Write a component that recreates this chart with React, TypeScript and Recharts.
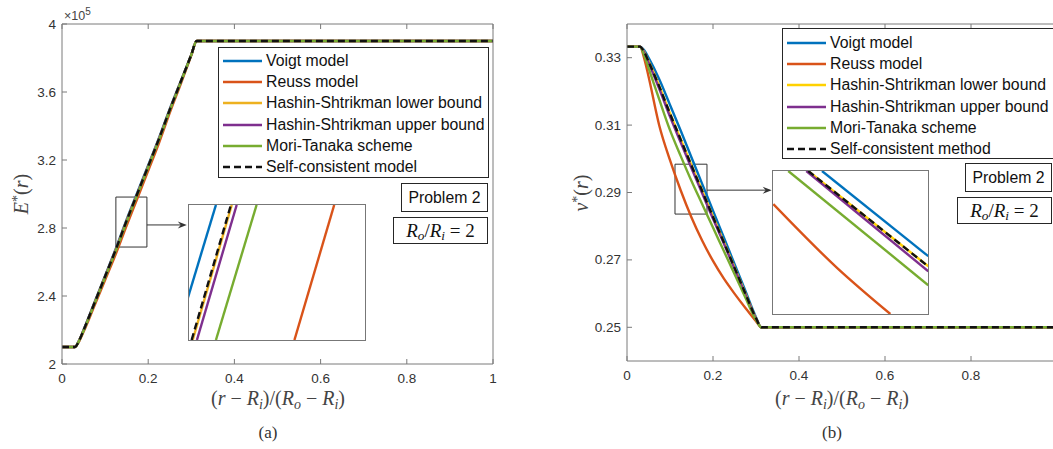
import React from 'react';
import { LineChart, Line, XAxis, YAxis, ReferenceArea, ReferenceLine, ReferenceDot } from 'recharts';

// normalized radius (r - Ri)/(Ro - Ri)
const position = [0, 0.03, 0.04, 0.05, 0.075, 0.1, 0.125, 0.15, 0.175, 0.2, 0.225, 0.25, 0.275, 0.3, 0.3125, 1];

// (a) effective Young's modulus, in units of 10^5
const eVoigt = [2.1, 2.1, 2.14, 2.2, 2.36, 2.52, 2.68, 2.85, 3.01, 3.17, 3.33, 3.5, 3.66, 3.82, 3.9, 3.9];
const eReuss = [2.1, 2.1, 2.135, 2.189, 2.341, 2.494, 2.648, 2.815, 2.975, 3.137, 3.3, 3.477, 3.644, 3.815, 3.9, 3.9];
const eHsLower = [2.1, 2.1, 2.139, 2.198, 2.357, 2.516, 2.675, 2.844, 3.004, 3.164, 3.325, 3.496, 3.657, 3.819, 3.9, 3.9];
const eHsUpper = [2.1, 2.1, 2.139, 2.198, 2.356, 2.514, 2.673, 2.842, 3.002, 3.162, 3.323, 3.495, 3.656, 3.819, 3.9, 3.9];
const eMoriTanaka = [2.1, 2.1, 2.138, 2.196, 2.352, 2.509, 2.667, 2.836, 2.996, 3.157, 3.318, 3.491, 3.654, 3.818, 3.9, 3.9];
const eSelfConsistent = [2.1, 2.1, 2.139, 2.198, 2.356, 2.515, 2.674, 2.843, 3.003, 3.163, 3.324, 3.495, 3.657, 3.819, 3.9, 3.9];

// (b) effective Poisson's ratio
const nuVoigt = [0.3333, 0.3333, 0.3322, 0.33, 0.3236, 0.316, 0.3083, 0.3004, 0.2925, 0.2846, 0.2767, 0.2688, 0.2609, 0.253, 0.25, 0.25];
const nuReuss = [0.3333, 0.3333, 0.3298, 0.3245, 0.3099, 0.2996, 0.2906, 0.2826, 0.2757, 0.2697, 0.2645, 0.26, 0.2558, 0.2518, 0.25, 0.25];
const nuHsLower = [0.3333, 0.3333, 0.3317, 0.329, 0.3216, 0.3135, 0.3058, 0.2981, 0.2905, 0.2829, 0.2754, 0.2678, 0.2602, 0.2527, 0.25, 0.25];
const nuHsUpper = [0.3333, 0.3333, 0.3315, 0.3286, 0.3208, 0.3125, 0.3048, 0.2972, 0.2897, 0.2822, 0.2749, 0.2674, 0.2599, 0.2526, 0.25, 0.25];
const nuMoriTanaka = [0.3333, 0.3333, 0.3307, 0.327, 0.3176, 0.3085, 0.3008, 0.2934, 0.2865, 0.2796, 0.2727, 0.2658, 0.2589, 0.2522, 0.25, 0.25];
const nuSelfConsistent = [0.3333, 0.3333, 0.3317, 0.3289, 0.3215, 0.3134, 0.3057, 0.298, 0.2904, 0.2828, 0.2753, 0.2677, 0.2601, 0.2527, 0.25, 0.25];

// zoomed insets: x at the bottom / top of the inset window
const insetAY = [2.97, 2.985];
const insetAX = {
  voigt: [0.16921, 0.17153],
  reuss: [0.17599, 0.17825],
  hsLower: [0.17021, 0.17243],
  hsUpper: [0.17045, 0.17271],
  moriTanaka: [0.17153, 0.17384],
  selfConsistent: [0.17015, 0.17238],
};
const insetB = {
  voigt: [[0.14632, 0.291], [0.16004, 0.28683]],
  reuss: [[0.14004, 0.28938], [0.14826, 0.28626], [0.15514, 0.284]],
  hsLower: [[0.14455, 0.291], [0.16004, 0.28633]],
  hsUpper: [[0.1443, 0.291], [0.16004, 0.28609]],
  moriTanaka: [[0.14197, 0.291], [0.16004, 0.28541]],
  selfConsistent: [[0.14455, 0.291], [0.16004, 0.28633]],
};

const xTicksA = [0, 0.2, 0.4, 0.6, 0.8, 1];
const xTicksB = [0, 0.2, 0.4, 0.6, 0.8];
const eTicks = [2, 2.4, 2.8, 3.2, 3.6, 4];
const nuTicks = [0.25, 0.27, 0.29, 0.31, 0.33];

const keys = ['voigt', 'reuss', 'hsLower', 'hsUpper', 'moriTanaka', 'selfConsistent'];
const namesA = ['Voigt model', 'Reuss model', 'Hashin-Shtrikman lower bound', 'Hashin-Shtrikman upper bound', 'Mori-Tanaka scheme', 'Self-consistent model'];
const namesB = ['Voigt model', 'Reuss model', 'Hashin-Shtrikman lower bound', 'Hashin-Shtrikman upper bound', 'Mori-Tanaka scheme', 'Self-consistent method'];
const colorsA = ['#0072BD', '#D95319', '#EDB120', '#7E2F8E', '#77AC30', '#111111'];
const colorsB = ['#0072BD', '#D95319', '#FFD100', '#7E2F8E', '#77AC30', '#111111'];

const dataA = position.map((x, i) => ({
  x, voigt: eVoigt[i], reuss: eReuss[i], hsLower: eHsLower[i], hsUpper: eHsUpper[i],
  moriTanaka: eMoriTanaka[i], selfConsistent: eSelfConsistent[i],
}));
const dataB = position.map((x, i) => ({
  x, voigt: nuVoigt[i], reuss: nuReuss[i], hsLower: nuHsLower[i], hsUpper: nuHsUpper[i],
  moriTanaka: nuMoriTanaka[i], selfConsistent: nuSelfConsistent[i],
}));

const axisColor = '#7a7a7a';
const tickFont = { fontFamily: '"Liberation Sans", Arial, sans-serif', fontSize: 13.5, fill: '#333' };
const serif = '"Liberation Serif", "Times New Roman", serif';
const sans = '"Liberation Sans", Arial, sans-serif';
const lineW = 2.4;

type Plot = { left: number; right: number; top: number; bottom: number };

const leftTick = (p: Plot, fmt: (v: number) => string) => (props: any) => {
  const y = props.payload?.coordinate ?? props.y;
  return (
    <g>
      <line x1={p.left} x2={p.left + 5} y1={y} y2={y} stroke={axisColor} />
      <text x={p.left - 6} y={y} textAnchor="end" dominantBaseline="central" {...tickFont}>{fmt(props.payload.value)}</text>
    </g>
  );
};
const bottomTick = (p: Plot) => (props: any) => {
  const x = props.payload?.coordinate ?? props.x;
  return (
    <g>
      <line x1={x} x2={x} y1={p.bottom} y2={p.bottom - 5} stroke={axisColor} />
      <text x={x} y={p.bottom + 14} textAnchor="middle" dominantBaseline="central" {...tickFont}>{String(props.payload.value)}</text>
    </g>
  );
};
const topTick = (p: Plot) => (props: any) => {
  const x = props.payload?.coordinate ?? props.x;
  return <line x1={x} x2={x} y1={p.top} y2={p.top + 5} stroke={axisColor} />;
};
const rightTick = (p: Plot) => (props: any) => {
  const y = props.payload?.coordinate ?? props.y;
  return <line x1={p.right} x2={p.right - 5} y1={y} y2={y} stroke={axisColor} />;
};

const arrowHead = (props: any) => {
  const { cx, cy } = props;
  return <polygon points={`${cx},${cy} ${cx - 9},${cy - 3.5} ${cx - 6},${cy} ${cx - 9},${cy + 3.5}`} fill="#333" />;
};

function LegendBox(props: { left: number; top: number; width: number; names: string[]; colors: string[]; rowTop: number }) {
  const { left, top, width, names, colors, rowTop } = props;
  return (
    <div style={{ position: 'absolute', left, top, width, height: 131, border: '1px solid #262626', background: '#fff', boxSizing: 'border-box' }}>
      {names.map((n, i) => (
        <div key={n} style={{ position: 'absolute', left: 4, top: rowTop + i * 21.2 - 10, height: 20, display: 'flex', alignItems: 'center', whiteSpace: 'nowrap' }}>
          <svg width={40} height={20} style={{ display: 'block' }}>
            <line x1={0} x2={39} y1={10} y2={10} stroke={colors[i]} strokeWidth={lineW} strokeDasharray={i === 5 ? '7 4' : undefined} />
          </svg>
          <span style={{ marginLeft: 3, fontFamily: sans, fontSize: 15.8, color: '#111' }}>{n}</span>
        </div>
      ))}
    </div>
  );
}

function Sub(props: { c: string }) {
  return <sub style={{ fontSize: '0.7em', verticalAlign: '-0.25em', lineHeight: 0 }}><i>{props.c}</i></sub>;
}

function TextBoxes(props: { left: number; top: number }) {
  const { left, top } = props;
  return (
    <>
      <div style={{ position: 'absolute', left: left + 8, top, width: 87, height: 29, border: '1px solid #262626', background: '#fff', boxSizing: 'border-box', fontFamily: sans, fontSize: 15.8, color: '#111', display: 'flex', alignItems: 'center', justifyContent: 'center' }}>Problem 2</div>
      <div style={{ position: 'absolute', left, top: top + 34, width: 95, height: 27, border: '1px solid #262626', background: '#fff', boxSizing: 'border-box', fontFamily: serif, fontSize: 19, color: '#111', display: 'flex', alignItems: 'center', justifyContent: 'center', whiteSpace: 'nowrap' }}>
        <span><i>R</i><Sub c="o" />/<i>R</i><Sub c="i" /> = 2</span>
      </div>
    </>
  );
}

function XLabel(props: { cx: number }) {
  return (
    <div style={{ position: 'absolute', left: props.cx - 150, top: 388, width: 300, height: 20, lineHeight: '20px', textAlign: 'center', fontFamily: serif, fontSize: 20, color: '#444', whiteSpace: 'nowrap' }}>
      (<i>r</i> − <i>R</i><Sub c="i" />)/(<i>R</i><Sub c="o" /> − <i>R</i><Sub c="i" />)
    </div>
  );
}

function YLabel(props: { cx: number; cy: number; sym: string }) {
  return (
    <div style={{ position: 'absolute', left: props.cx - 40, top: props.cy - 12, width: 80, height: 24, textAlign: 'center', transform: 'rotate(-90deg)', fontFamily: serif, fontSize: 20, color: '#444', whiteSpace: 'nowrap' }}>
      <i>{props.sym}</i><sup style={{ fontSize: '0.7em', verticalAlign: '0.45em', lineHeight: 0 }}>*</sup>(<i>r</i>)
    </div>
  );
}

const plotA: Plot = { left: 62, right: 493, top: 24, bottom: 364 };
const plotB: Plot = { left: 67, right: 497, top: 24, bottom: 361 };

function MainChartA() {
  return (
    <LineChart width={520} height={449} data={dataA} margin={{ top: 23, right: 26, bottom: 55, left: 2 }}>
      <XAxis type="number" dataKey="x" domain={[0, 1]} ticks={xTicksA} interval={0} height={30} tickLine={false} axisLine={{ stroke: axisColor }} tick={bottomTick(plotA)} />
      <XAxis xAxisId="top" orientation="top" type="number" dataKey="x" domain={[0, 1]} ticks={xTicksA} interval={0} height={1} tickLine={false} axisLine={{ stroke: axisColor }} tick={topTick(plotA)} />
      <YAxis type="number" domain={[2, 4]} ticks={eTicks} interval={0} width={60} tickLine={false} axisLine={{ stroke: axisColor }} tick={leftTick(plotA, (v) => String(v))} />
      <YAxis yAxisId="right" orientation="right" type="number" domain={[2, 4]} ticks={eTicks} interval={0} width={1} tickLine={false} axisLine={{ stroke: axisColor }} tick={rightTick(plotA)} />
      {keys.map((k, i) => (
        <Line key={k} type="monotone" dataKey={k} stroke={colorsA[i]} strokeWidth={lineW} dot={false} strokeDasharray={i === 5 ? '7 4' : undefined} isAnimationActive={false} />
      ))}
      <ReferenceArea x1={0.125} x2={0.197} y1={2.688} y2={2.982} fill="none" fillOpacity={0} stroke="#333" strokeWidth={1} />
      <ReferenceLine segment={[{ x: 0.197, y: 2.818 }, { x: 0.283, y: 2.818 }]} stroke="#333" strokeWidth={1} />
      <ReferenceDot x={0.2895} y={2.818} r={0} shape={arrowHead} />
    </LineChart>
  );
}

function MainChartB() {
  return (
    <LineChart width={520} height={449} data={dataB} margin={{ top: 23, right: 23, bottom: 58, left: 7 }}>
      <XAxis type="number" dataKey="x" domain={[0, 1]} ticks={xTicksB} interval={0} height={30} tickLine={false} axisLine={{ stroke: axisColor }} tick={bottomTick(plotB)} />
      <XAxis xAxisId="top" orientation="top" type="number" dataKey="x" domain={[0, 1]} ticks={xTicksB} interval={0} height={1} tickLine={false} axisLine={{ stroke: axisColor }} tick={topTick(plotB)} />
      <YAxis type="number" domain={[0.24, 0.34]} ticks={nuTicks} interval={0} width={60} tickLine={false} axisLine={{ stroke: axisColor }} tick={leftTick(plotB, (v) => v.toFixed(2))} />
      {keys.map((k, i) => (
        <Line key={k} type="monotone" dataKey={k} stroke={colorsB[i]} strokeWidth={lineW} dot={false} strokeDasharray={i === 5 ? '7 4' : undefined} isAnimationActive={false} />
      ))}
      <ReferenceArea x1={0.1116} x2={0.186} y1={0.2836} y2={0.2984} fill="none" fillOpacity={0} stroke="#333" strokeWidth={1} />
      <ReferenceLine segment={[{ x: 0.186, y: 0.2907 }, { x: 0.331, y: 0.2907 }]} stroke="#333" strokeWidth={1} />
      <ReferenceDot x={0.3365} y={0.2907} r={0} shape={arrowHead} />
    </LineChart>
  );
}

function InsetA() {
  return (
    <div style={{ position: 'absolute', left: 188, top: 204, width: 178, height: 137, border: '1px solid #777', background: '#fff', boxSizing: 'border-box' }}>
      <LineChart width={176} height={135} margin={{ top: 0, right: 0, bottom: 0, left: 0 }}>
        <XAxis type="number" dataKey="x" domain={[0.17, 0.18]} allowDataOverflow hide height={0} />
        <YAxis type="number" dataKey="y" domain={[2.97, 2.985]} allowDataOverflow hide width={0} />
        {keys.map((k, i) => (
          <Line key={k} data={(insetAX as any)[k].map((x: number, j: number) => ({ x, y: insetAY[j] }))} dataKey="y" stroke={colorsA[i]} strokeWidth={lineW} dot={false} strokeDasharray={i === 5 ? '7 4' : undefined} isAnimationActive={false} />
        ))}
      </LineChart>
    </div>
  );
}

function InsetB() {
  return (
    <div style={{ position: 'absolute', left: 772, top: 170, width: 157, height: 145, border: '1px solid #777', background: '#fff', boxSizing: 'border-box' }}>
      <LineChart width={155} height={143} margin={{ top: 0, right: 0, bottom: 0, left: 0 }}>
        <XAxis type="number" dataKey="x" domain={[0.14, 0.16]} allowDataOverflow hide height={0} />
        <YAxis type="number" dataKey="y" domain={[0.284, 0.291]} allowDataOverflow hide width={0} />
        {keys.map((k, i) => (
          <Line key={k} type="monotone" data={(insetB as any)[k].map((pt: number[]) => ({ x: pt[0], y: pt[1] }))} dataKey="y" stroke={colorsB[i]} strokeWidth={lineW} dot={false} strokeDasharray={i === 5 ? '7 4' : undefined} isAnimationActive={false} />
        ))}
      </LineChart>
    </div>
  );
}

export default function App() {
  return (
    <div style={{ position: 'absolute', left: 0, top: 0, width: 1053, height: 449, overflow: 'hidden', background: '#fff' }}>
      <div style={{ position: 'absolute', left: 0, top: 0 }}>
        <MainChartA />
      </div>
      <div style={{ position: 'absolute', left: 560, top: 0 }}>
        <MainChartB />
      </div>
      <InsetA />
      <InsetB />
      <LegendBox left={218} top={47} width={271} names={namesA} colors={colorsA} rowTop={13} />
      <LegendBox left={782} top={28} width={275} names={namesB} colors={colorsB} rowTop={14} />
      <TextBoxes left={393} top={183} />
      <TextBoxes left={957} top={163} />
      <div style={{ position: 'absolute', left: 64, top: 9, fontFamily: sans, fontSize: 12.5, color: '#444', whiteSpace: 'nowrap' }}>
        ×10<sup style={{ fontSize: '0.8em', verticalAlign: '0.5em', lineHeight: 0 }}>5</sup>
      </div>
      <YLabel cx={22} cy={194} sym="E" />
      <YLabel cx={582} cy={193} sym="ν" />
      <XLabel cx={278} />
      <XLabel cx={842} />
      <div style={{ position: 'absolute', left: 238, top: 423, width: 60, textAlign: 'center', fontFamily: serif, fontSize: 17, color: '#333' }}>(a)</div>
      <div style={{ position: 'absolute', left: 802, top: 423, width: 60, textAlign: 'center', fontFamily: serif, fontSize: 17, color: '#333' }}>(b)</div>
    </div>
  );
}
